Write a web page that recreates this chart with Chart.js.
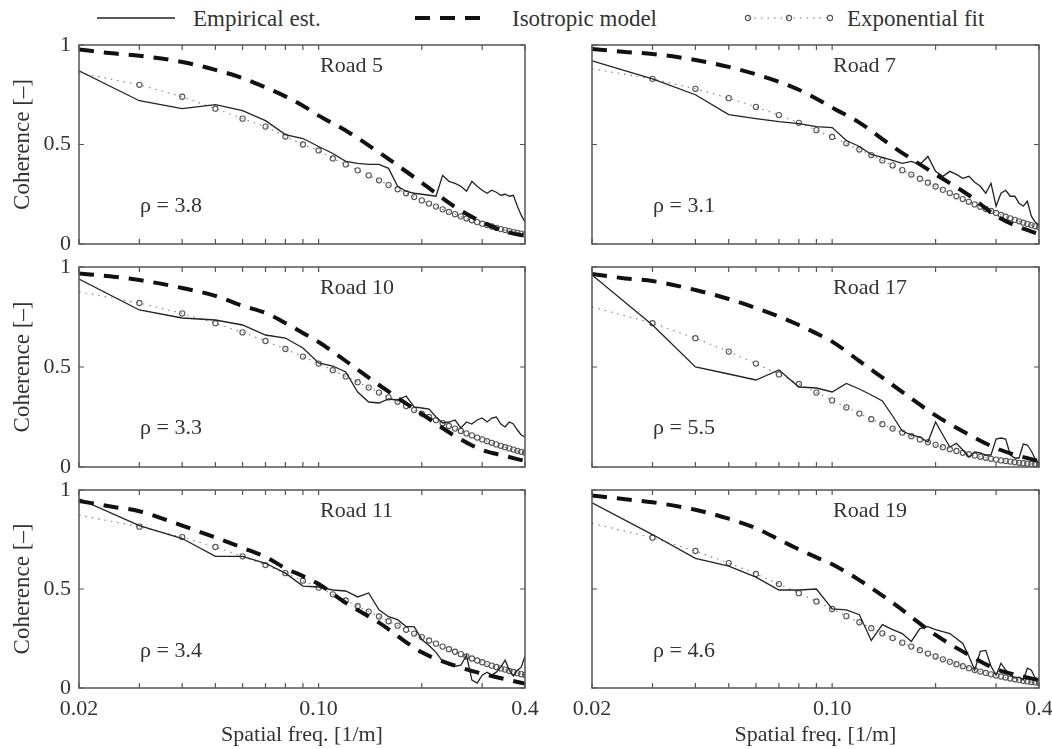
<!DOCTYPE html>
<html>
<head>
<meta charset="utf-8">
<script src="https://cdn.jsdelivr.net/npm/chart.js@4.4.1/dist/chart.umd.min.js"></script>
<style>
    body { margin: 0; background: #fff; }
    #page { position: relative; width: 1052px; height: 749px; overflow: hidden; background: #fff; }
    .panel { position: absolute; }
    #legend { position: absolute; left: 0; top: 0; }
    #legend text { font-family: "Liberation Serif", serif; font-size: 23px; fill: #333; }
</style>
</head>
<body>
<div id="page">
    <svg id="legend" width="1052" height="34">
        <line x1="97" y1="18" x2="175" y2="18" stroke="#222" stroke-width="1.5"/>
        <text x="193" y="26">Empirical est.</text>
        <line x1="415" y1="18" x2="483" y2="18" stroke="#111" stroke-width="4" stroke-dasharray="15 10"/>
        <text x="512" y="26">Isotropic model</text>
        <line x1="748" y1="18" x2="830" y2="18" stroke="#777" stroke-width="1.2" stroke-dasharray="1.5 5"/>
        <circle cx="748" cy="18" r="2.6" fill="none" stroke="#555" stroke-width="1.1"/>
        <circle cx="789" cy="18" r="2.6" fill="none" stroke="#555" stroke-width="1.1"/>
        <circle cx="830" cy="18" r="2.6" fill="none" stroke="#555" stroke-width="1.1"/>
        <text x="847" y="26">Exponential fit</text>
    </svg>
</div>
<script>
// frequencies of the empirical estimate and of the exponential fit [1/m]
const freqs = [0.02, 0.03, 0.04, 0.05, 0.06, 0.07, 0.08, 0.09, 0.10, 0.11, 0.12, 0.13, 0.14,
    0.15, 0.16, 0.17, 0.18, 0.19, 0.20, 0.21, 0.22, 0.23, 0.24, 0.25, 0.26, 0.27, 0.28,
    0.29, 0.30, 0.31, 0.32, 0.33, 0.34, 0.35, 0.36, 0.37, 0.38, 0.39, 0.40];
// frequencies where the isotropic model was read
const isoFreqs = [0.02, 0.025, 0.03, 0.04, 0.05, 0.06, 0.07, 0.08, 0.09, 0.10, 0.12, 0.15, 0.2, 0.25, 0.3, 0.35, 0.4];

const xTickValues = [0.02, 0.03, 0.04, 0.05, 0.06, 0.07, 0.08, 0.09, 0.1, 0.2, 0.3, 0.4];
const xTickLabels = ['0.02', '', '', '', '', '', '', '', '0.10', '', '', '0.4'];
const yTickValues = [0, 0.5, 1];
const yTickLabels = ['0', '0.5', '1'];

// Road 5
const road5Emp = [0.87, 0.72, 0.68, 0.70, 0.67, 0.62, 0.55, 0.53, 0.49, 0.455, 0.415, 0.405, 0.40,
    0.40, 0.38, 0.29, 0.265, 0.255, 0.25, 0.245, 0.24, 0.345, 0.315, 0.305, 0.29, 0.265, 0.315,
    0.29, 0.27, 0.255, 0.27, 0.26, 0.245, 0.25, 0.24, 0.245, 0.19, 0.145, 0.11];
const road5Iso = [0.978, 0.958, 0.946, 0.915, 0.875, 0.834, 0.787, 0.742, 0.695, 0.645, 0.57, 0.46, 0.308, 0.186, 0.11, 0.063, 0.04];
const road5Exp = [0.86, 0.80, 0.74, 0.68, 0.63, 0.59, 0.54, 0.50, 0.47, 0.43, 0.40, 0.37, 0.345,
    0.32, 0.296, 0.275, 0.255, 0.236, 0.219, 0.203, 0.188, 0.174, 0.161, 0.15, 0.139, 0.128, 0.119,
    0.11, 0.102, 0.095, 0.088, 0.081, 0.075, 0.07, 0.065, 0.06, 0.056, 0.052, 0.048];

// Road 7
const road7Emp = [0.92, 0.83, 0.75, 0.65, 0.63, 0.615, 0.605, 0.59, 0.585, 0.52, 0.49, 0.45, 0.435,
    0.42, 0.405, 0.415, 0.40, 0.44, 0.365, 0.34, 0.365, 0.35, 0.33, 0.34, 0.31, 0.29, 0.255,
    0.305, 0.19, 0.255, 0.27, 0.24, 0.24, 0.205, 0.19, 0.215, 0.14, 0.11, 0.095];
const road7Iso = [0.98, 0.965, 0.955, 0.925, 0.89, 0.853, 0.815, 0.775, 0.73, 0.685, 0.61, 0.49, 0.35, 0.245, 0.141, 0.085, 0.05];
const road7Exp = [0.88, 0.83, 0.78, 0.733, 0.689, 0.648, 0.609, 0.572, 0.538, 0.506, 0.475, 0.447, 0.42,
    0.395, 0.371, 0.349, 0.328, 0.308, 0.289, 0.272, 0.256, 0.24, 0.226, 0.212, 0.199, 0.187, 0.176,
    0.166, 0.156, 0.146, 0.137, 0.129, 0.121, 0.114, 0.107, 0.101, 0.095, 0.089, 0.084];

// Road 10
const road10Emp = [0.94, 0.785, 0.745, 0.735, 0.71, 0.66, 0.645, 0.595, 0.52, 0.505, 0.475, 0.375, 0.325,
    0.32, 0.34, 0.335, 0.355, 0.30, 0.295, 0.29, 0.25, 0.22, 0.225, 0.235, 0.195, 0.225, 0.215,
    0.235, 0.245, 0.225, 0.245, 0.25, 0.215, 0.20, 0.225, 0.215, 0.185, 0.16, 0.15];
const road10Iso = [0.968, 0.952, 0.935, 0.895, 0.856, 0.806, 0.77, 0.72, 0.67, 0.625, 0.53, 0.41, 0.265, 0.155, 0.085, 0.055, 0.03];
const road10Exp = [0.876, 0.82, 0.768, 0.719, 0.673, 0.63, 0.59, 0.552, 0.517, 0.484, 0.453, 0.424, 0.397,
    0.372, 0.348, 0.326, 0.305, 0.285, 0.267, 0.25, 0.234, 0.219, 0.205, 0.192, 0.18, 0.168, 0.158,
    0.147, 0.138, 0.129, 0.121, 0.113, 0.106, 0.099, 0.093, 0.087, 0.081, 0.076, 0.071];

// Road 17
const road17Emp = [0.96, 0.71, 0.50, 0.465, 0.435, 0.485, 0.40, 0.395, 0.375, 0.418, 0.39, 0.36, 0.33,
    0.255, 0.18, 0.16, 0.15, 0.125, 0.225, 0.16, 0.10, 0.118, 0.085, 0.05, 0.075, 0.07, 0.06,
    0.06, 0.14, 0.145, 0.14, 0.06, 0.045, 0.045, 0.115, 0.11, 0.08, 0.04, 0.02];
const road17Iso = [0.965, 0.943, 0.93, 0.885, 0.84, 0.795, 0.752, 0.71, 0.668, 0.627, 0.53, 0.41, 0.258, 0.162, 0.094, 0.055, 0.03];
const road17Exp = [0.80, 0.719, 0.644, 0.577, 0.517, 0.463, 0.415, 0.372, 0.333, 0.298, 0.267, 0.239, 0.214,
    0.192, 0.172, 0.154, 0.138, 0.124, 0.111, 0.099, 0.089, 0.08, 0.071, 0.064, 0.057, 0.051, 0.046,
    0.041, 0.037, 0.033, 0.03, 0.027, 0.024, 0.021, 0.019, 0.017, 0.015, 0.014, 0.012];

// Road 11
const road11Emp = [0.955, 0.82, 0.755, 0.665, 0.665, 0.63, 0.58, 0.515, 0.51, 0.495, 0.49, 0.46, 0.48,
    0.395, 0.36, 0.345, 0.31, 0.31, 0.245, 0.215, 0.18, 0.135, 0.115, 0.11, 0.115, 0.165, 0.04,
    0.025, 0.065, 0.08, 0.065, 0.08, 0.105, 0.14, 0.09, 0.06, 0.09, 0.105, 0.16];
const road11Iso = [0.945, 0.915, 0.893, 0.82, 0.76, 0.708, 0.662, 0.605, 0.565, 0.525, 0.43, 0.33, 0.18, 0.113, 0.072, 0.045, 0.022];
const road11Exp = [0.873, 0.815, 0.762, 0.712, 0.665, 0.621, 0.58, 0.542, 0.507, 0.473, 0.442, 0.413, 0.386,
    0.361, 0.337, 0.315, 0.294, 0.275, 0.257, 0.24, 0.224, 0.209, 0.196, 0.183, 0.171, 0.159, 0.149,
    0.139, 0.13, 0.121, 0.113, 0.106, 0.099, 0.093, 0.086, 0.081, 0.075, 0.07, 0.066];

// Road 19
const road19Emp = [0.935, 0.775, 0.655, 0.615, 0.56, 0.495, 0.495, 0.50, 0.40, 0.395, 0.37, 0.24, 0.32,
    0.295, 0.275, 0.235, 0.30, 0.31, 0.295, 0.285, 0.275, 0.25, 0.225, 0.16, 0.09, 0.185, 0.19,
    0.11, 0.065, 0.125, 0.09, 0.065, 0.05, 0.055, 0.04, 0.10, 0.09, 0.05, 0.04];
const road19Iso = [0.972, 0.953, 0.938, 0.90, 0.855, 0.807, 0.75, 0.70, 0.66, 0.625, 0.545, 0.43, 0.268, 0.167, 0.096, 0.063, 0.04];
const road19Exp = [0.832, 0.759, 0.692, 0.631, 0.576, 0.525, 0.479, 0.437, 0.399, 0.363, 0.332, 0.302, 0.276,
    0.252, 0.229, 0.209, 0.191, 0.174, 0.159, 0.145, 0.132, 0.12, 0.11, 0.1, 0.091, 0.083, 0.076,
    0.069, 0.063, 0.058, 0.053, 0.048, 0.044, 0.04, 0.036, 0.033, 0.03, 0.028, 0.025];

const panels = [
    { road: 'Road 5',  rho: 'ρ = 3.8', emp: road5Emp,  iso: road5Iso,  exp: road5Exp,  row: 0, col: 0 },
    { road: 'Road 7',  rho: 'ρ = 3.1', emp: road7Emp,  iso: road7Iso,  exp: road7Exp,  row: 0, col: 1 },
    { road: 'Road 10', rho: 'ρ = 3.3', emp: road10Emp, iso: road10Iso, exp: road10Exp, row: 1, col: 0 },
    { road: 'Road 17', rho: 'ρ = 5.5', emp: road17Emp, iso: road17Iso, exp: road17Exp, row: 1, col: 1 },
    { road: 'Road 11', rho: 'ρ = 3.4', emp: road11Emp, iso: road11Iso, exp: road11Exp, row: 2, col: 0 },
    { road: 'Road 19', rho: 'ρ = 4.6', emp: road19Emp, iso: road19Iso, exp: road19Exp, row: 2, col: 1 }
];

const FONT = '"Liberation Serif", serif';
const TEXT = '#333';

// frame, inward ticks and the two labels inside each panel
const panelDeco = {
    id: 'panelDeco',
    afterDatasetsDraw(chart, args, opts) {
        const { ctx, chartArea: a, scales } = chart;
        ctx.save();
        ctx.strokeStyle = '#555';
        ctx.lineWidth = 1.5;
        ctx.strokeRect(a.left, a.top, a.right - a.left, a.bottom - a.top);
        ctx.lineWidth = 1.2;
        ctx.beginPath();
        scales.x.ticks.forEach(t => {
            const px = scales.x.getPixelForValue(t.value);
            ctx.moveTo(px, a.bottom); ctx.lineTo(px, a.bottom - 5);
            ctx.moveTo(px, a.top); ctx.lineTo(px, a.top + 5);
        });
        scales.y.ticks.forEach(t => {
            const py = scales.y.getPixelForValue(t.value);
            ctx.moveTo(a.left, py); ctx.lineTo(a.left + 5, py);
            ctx.moveTo(a.right, py); ctx.lineTo(a.right - 5, py);
        });
        ctx.stroke();
        ctx.fillStyle = TEXT;
        ctx.font = '22px ' + FONT;
        ctx.textBaseline = 'middle';
        ctx.textAlign = 'left';
        ctx.fillText(opts.road, a.left + 241, a.top + 21);
        ctx.fillText(opts.rho, a.left + 61, a.top + 161);
        ctx.restore();
    }
};

// chart area: rows at 45-244, 267-467, 490-688; columns at 79-525 and 592-1039
const rows = [
    { top: 31, height: 227, xh: 14 },
    { top: 253, height: 228, xh: 14 },
    { top: 476, height: 272, xh: 60 }
];
const cols = [
    { left: 0, width: 545, yw: 79, padRight: 20 },
    { left: 560, width: 493, yw: 32, padRight: 14 }
];

function makePanel(p) {
    const r = rows[p.row];
    const c = cols[p.col];
    const holder = document.createElement('div');
    holder.className = 'panel';
    holder.style.left = c.left + 'px';
    holder.style.top = r.top + 'px';
    const canvas = document.createElement('canvas');
    canvas.width = c.width;
    canvas.height = r.height;
    canvas.style.width = c.width + 'px';
    canvas.style.height = r.height + 'px';
    holder.appendChild(canvas);
    document.getElementById('page').appendChild(holder);

    const bottomRow = p.row === 2;
    const leftCol = p.col === 0;

    new Chart(canvas, {
        type: 'line',
        data: {
            datasets: [
                {
                    label: 'Isotropic model',
                    data: isoFreqs.map((f, i) => ({ x: f, y: p.iso[i] })),
                    borderColor: '#111',
                    borderWidth: 4,
                    borderDash: [15, 10],
                    pointRadius: 0,
                    cubicInterpolationMode: 'monotone',
                    fill: false
                },
                {
                    label: 'Empirical est.',
                    data: freqs.map((f, i) => ({ x: f, y: p.emp[i] })),
                    borderColor: '#222',
                    borderWidth: 1.3,
                    pointRadius: 0,
                    tension: 0,
                    fill: false
                },
                {
                    label: 'Exponential fit',
                    data: freqs.map((f, i) => ({ x: f, y: p.exp[i] })),
                    borderColor: '#888',
                    borderWidth: 1.2,
                    borderDash: [1.5, 5],
                    pointRadius: freqs.map((f, i) => i === 0 ? 0 : 2.6),
                    pointBorderColor: '#555',
                    pointBackgroundColor: 'rgba(255,255,255,0)',
                    pointBorderWidth: 1.1,
                    tension: 0,
                    fill: false
                }
            ]
        },
        options: {
            responsive: false,
            animation: false,
            devicePixelRatio: 1,
            layout: { padding: { top: 14, right: c.padRight, left: 0, bottom: 0 } },
            plugins: {
                legend: { display: false },
                tooltip: { enabled: false },
                panelDeco: { road: p.road, rho: p.rho }
            },
            scales: {
                x: {
                    type: 'logarithmic',
                    min: 0.02,
                    max: 0.4,
                    afterBuildTicks: s => { s.ticks = xTickValues.map(v => ({ value: v })); },
                    afterFit: s => { s.height = r.xh; },
                    grid: { display: false },
                    border: { display: false },
                    ticks: {
                        display: bottomRow,
                        autoSkip: false,
                        maxRotation: 0,
                        padding: 0,
                        color: TEXT,
                        font: { family: FONT, size: 22 },
                        callback: (v, i) => xTickLabels[i]
                    },
                    title: {
                        display: bottomRow,
                        text: 'Spatial freq. [1/m]',
                        color: TEXT,
                        font: { family: FONT, size: 22, lineHeight: 1.2 },
                        padding: { top: 0, bottom: 0 }
                    }
                },
                y: {
                    min: 0,
                    max: 1,
                    afterBuildTicks: s => { s.ticks = yTickValues.map(v => ({ value: v })); },
                    afterFit: s => { s.width = c.yw; },
                    grid: { display: false },
                    border: { display: false },
                    ticks: {
                        display: leftCol,
                        padding: 0,
                        color: TEXT,
                        font: { family: FONT, size: 22 },
                        callback: (v, i) => yTickLabels[i]
                    },
                    title: {
                        display: leftCol,
                        text: 'Coherence [–]',
                        color: TEXT,
                        font: { family: FONT, size: 23, lineHeight: 1.2 },
                        padding: { top: 9, bottom: 0 }
                    }
                }
            }
        },
        plugins: [panelDeco]
    });
}

panels.forEach(makePanel);
</script>
</body>
</html>
